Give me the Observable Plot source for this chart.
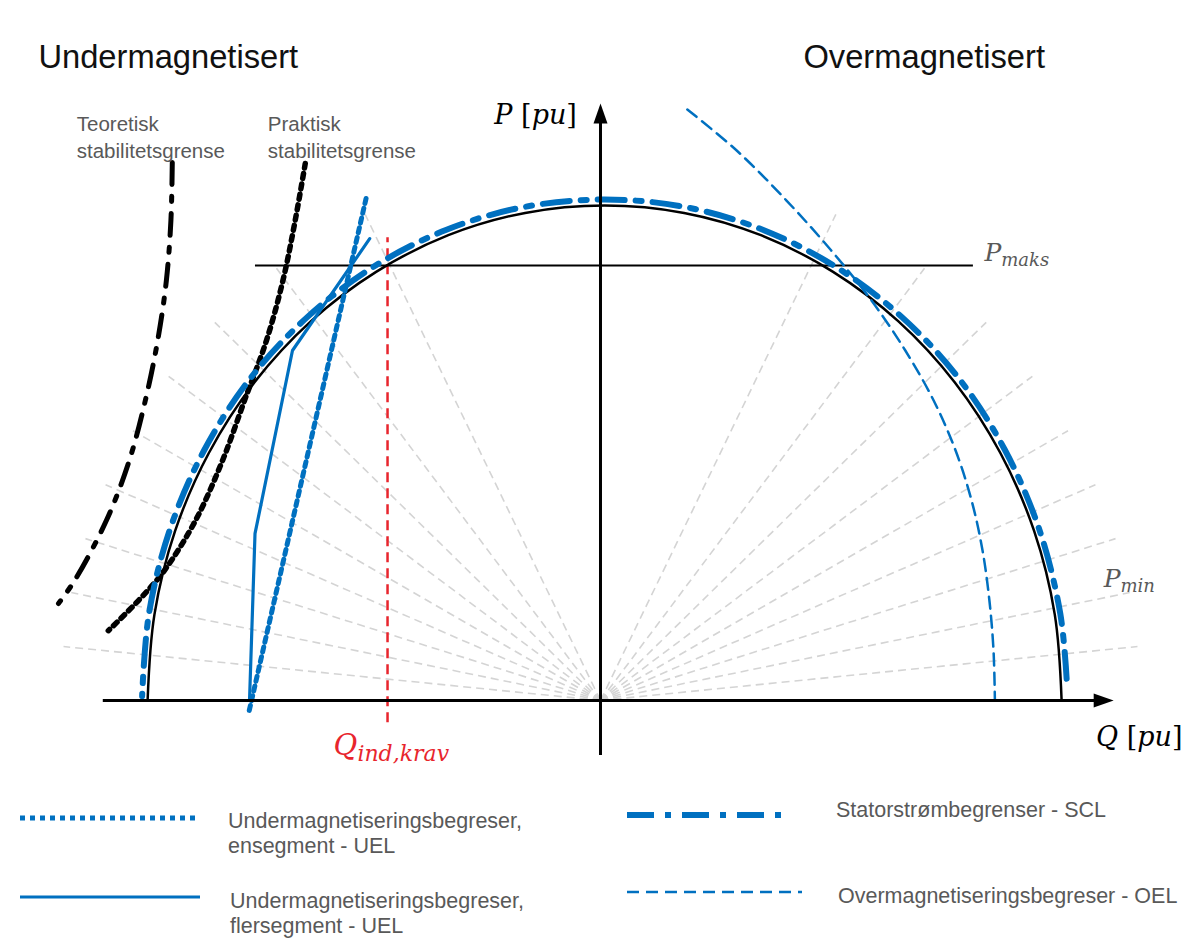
<!DOCTYPE html>
<html><head><meta charset="utf-8">
<script src="https://cdn.jsdelivr.net/npm/d3@7"></script>
<script src="https://cdn.jsdelivr.net/npm/@observablehq/plot@0.6"></script>
<style>
body{margin:0;background:#fff;}
#wrap{position:relative;width:1184px;height:938px;overflow:hidden;font-family:"Liberation Sans",Arial,sans-serif;}
#legend{position:absolute;left:0;top:780px;width:1184px;height:158px;}
.ls{position:absolute;}
.lt{position:absolute;font-size:21.5px;line-height:25px;color:#595959;white-space:pre;}
</style></head><body>
<div id="wrap"><div id="chart"></div><div id="legend"></div></div>
<script>
// ---- data (Q, P in pu) ----
const capabilityCircle = [[1.009,0],[0.994,0.174],[0.949,0.342],[0.875,0.5],[0.775,0.643],[0.652,0.766],[0.509,0.866],[0.351,0.94],[0.183,0.985],[0.009,1],[-0.165,0.985],[-0.333,0.94],[-0.491,0.866],[-0.634,0.766],[-0.757,0.643],[-0.857,0.5],[-0.931,0.342],[-0.976,0.174],[-0.991,0]];
const sclCurve = [[1.020,0.044],[1.006,0.176],[0.960,0.346],[0.885,0.506],[0.784,0.651],[0.659,0.775],[0.515,0.876],[0.355,0.951],[0.185,0.997],[0.009,1.012],[-0.167,0.997],[-0.337,0.951],[-0.497,0.876],[-0.641,0.775],[-0.766,0.651],[-0.867,0.506],[-0.942,0.346],[-0.988,0.176],[-1.003,0.009]];
const oelCurve = [[0.190,1.194],[0.298,1.111],[0.407,1.010],[0.505,0.909],[0.593,0.808],[0.667,0.707],[0.729,0.606],[0.777,0.505],[0.812,0.404],[0.836,0.303],[0.851,0.202],[0.860,0.101],[0.863,0]];
const theoreticalLimit = [[-0.937,1.087],[-0.940,0.970],[-0.950,0.848],[-0.969,0.727],[-0.996,0.606],[-1.031,0.485],[-1.081,0.364],[-1.151,0.242],[-1.186,0.196]];
const practicalLimit = [[-0.646,1.085],[-0.668,0.970],[-0.695,0.848],[-0.731,0.727],[-0.779,0.606],[-0.827,0.485],[-0.886,0.364],[-0.954,0.263],[-1.011,0.202],[-1.077,0.141]];
const uelSingle = [[-0.513,1.014],[-0.770,-0.026]];
const uelMulti = [[-0.505,0.933],[-0.674,0.707],[-0.756,0.337],[-0.768,0]];
const rayEnds = [[1.175,0.109],[1.158,0.218],[1.127,0.327],[1.083,0.436],[1.023,0.545],[0.945,0.655],[0.844,0.764],[0.709,0.873],[0.515,0.982],
                 [-1.175,0.109],[-1.158,0.218],[-1.127,0.327],[-1.083,0.436],[-1.023,0.545],[-0.945,0.655],[-0.844,0.764],[-0.709,0.873],[-0.515,0.982]];
const pMaks = 0.879, pMaksFrom = -0.755, pMaksTo = 0.816;
const qIndKrav = -0.466, qIndFrom = -0.045, qIndTo = 0.935;
const headings = [{q:-1.230, p:1.299, text:"Undermagnetisert"},{q:0.444, p:1.299, text:"Overmagnetisert"}];
const limitLabels = [{q:-1.146, p:1.140, text:"Teoretisk\nstabilitetsgrense"},{q:-0.728, p:1.140, text:"Praktisk\nstabilitetsgrense"}];
const legendItems = [
  {key:"uel1", label:"Undermagnetiseringsbegreser,\nensegment - UEL"},
  {key:"uel2", label:"Undermagnetiseringsbegreser,\nflersegment - UEL"},
  {key:"scl", label:"Statorstrømbegrenser - SCL"},
  {key:"oel", label:"Overmagnetiseringsbegreser - OEL"}
];

const BLUE = "#0070C0";
const styles = {
  uel1:{stroke:BLUE, strokeWidth:5, dash:"5,5"},
  uel2:{stroke:BLUE, strokeWidth:3.2, dash:null},
  scl:{stroke:BLUE, strokeWidth:6, dash:"27,11,6,11"},
  oel:{stroke:BLUE, strokeWidth:2.5, dash:"12,7"}
};

const arrowUp = {draw(ctx){ctx.moveTo(0,-10);ctx.lineTo(7,10);ctx.lineTo(-7,10);ctx.closePath();}};
const arrowRight = {draw(ctx){ctx.moveTo(10,0);ctx.lineTo(-10,-7);ctx.lineTo(-10,7);ctx.closePath();}};

const X = d => d[0], Y = d => d[1];
const serif = "'DejaVu Serif', 'Liberation Serif', serif";

const chart = Plot.plot({
  width:1184, height:780, margin:0,
  x:{domain:[-1.3129,1.2779], axis:null},
  y:{domain:[-0.1616,1.4141], axis:null},
  style:{fontFamily:"'Liberation Sans', Arial, sans-serif", background:"white", overflow:"visible"},
  marks:[
    Plot.link(rayEnds, {x1:0, y1:0, x2:X, y2:Y, stroke:"#d4d4d4", strokeWidth:1.6, strokeDasharray:"8,5"}),
    Plot.ruleX([qIndKrav], {y1:qIndFrom, y2:qIndTo, stroke:"#e8252d", strokeWidth:2.5, strokeDasharray:"10,6"}),
    Plot.ruleY([pMaks], {x1:pMaksFrom, x2:pMaksTo, stroke:"black", strokeWidth:2}),
    Plot.line(capabilityCircle, {x:X, y:Y, curve:"catmull-rom", stroke:"black", strokeWidth:2.5}),
    Plot.line(theoreticalLimit, {x:X, y:Y, curve:"catmull-rom", stroke:"black", strokeWidth:5, strokeDasharray:"22,12,5,12"}),
    Plot.line(practicalLimit, {x:X, y:Y, curve:"catmull-rom", stroke:"black", strokeWidth:5.5, strokeDasharray:"5,5.5"}),
    Plot.line(oelCurve, {x:X, y:Y, curve:"catmull-rom", stroke:BLUE, strokeWidth:styles.oel.strokeWidth, strokeDasharray:styles.oel.dash}),
    Plot.line(sclCurve, {x:X, y:Y, curve:"catmull-rom", stroke:BLUE, strokeWidth:styles.scl.strokeWidth, strokeDasharray:styles.scl.dash}),
    Plot.line(uelSingle, {x:X, y:Y, stroke:BLUE, strokeWidth:styles.uel1.strokeWidth, strokeDasharray:styles.uel1.dash}),
    Plot.line(uelMulti, {x:X, y:Y, stroke:BLUE, strokeWidth:styles.uel2.strokeWidth, strokeLinejoin:"miter"}),
    Plot.ruleY([0], {x1:-1.088, x2:1.095, stroke:"black", strokeWidth:3}),
    Plot.ruleX([0], {y1:-0.111, y2:1.17, stroke:"black", strokeWidth:3}),
    Plot.dot([[0,1.186]], {x:X, y:Y, symbol:arrowUp, fill:"black", stroke:null, r:5}),
    Plot.dot([[1.101,0]], {x:X, y:Y, symbol:arrowRight, fill:"black", stroke:null, r:5}),
    Plot.text(headings, {x:"q", y:"p", text:"text", textAnchor:"start", fontSize:32.7, fill:"#111"}),
    Plot.text(limitLabels, {x:"q", y:"p", text:"text", textAnchor:"start", fontSize:20.5, lineHeight:1.32, fill:"#595959"}),
    Plot.text([{q:-0.142, p:1.182, t:"P [pu]"},{q:1.179, p:-0.075, t:"Q [pu]"}], {x:"q", y:"p", text:"t", fontSize:27, fontFamily:serif, fill:"black"}),
    Plot.text([{q:-0.584, p:-0.092, t:"Qind,krav"}], {x:"q", y:"p", text:"t", textAnchor:"start", fontSize:29, fontFamily:serif, fill:"#e8252d"}),
    Plot.text([{q:0.840, p:0.905, t:"Pmaks"},{q:1.101, p:0.246, t:"Pmin"}], {x:"q", y:"p", text:"t", textAnchor:"start", fontSize:25, fontFamily:serif, fill:"#595959"})
  ]
});
document.getElementById("chart").appendChild(chart);

function rich(str, parts){
  d3.select(chart).selectAll("text").filter(function(){return this.textContent===str;}).each(function(){
    const t = d3.select(this); t.text(null);
    for (const p of parts){
      const s = t.append("tspan").text(p.t).attr("font-style", p.i ? "italic" : "normal");
      if (p.s) s.attr("font-size", p.s);
      if (p.dy) s.attr("dy", p.dy);
    }
  });
}
rich("P [pu]", [{t:"P",i:1},{t:" ["},{t:"pu",i:1},{t:"]"}]);
rich("Q [pu]", [{t:"Q",i:1},{t:" ["},{t:"pu",i:1},{t:"]"}]);
rich("Qind,krav", [{t:"Q",i:1},{t:"ind,krav",i:1,s:"22px",dy:"6px"}]);
rich("Pmaks", [{t:"P",i:1},{t:"maks",i:1,s:"18px",dy:"5px"}]);
rich("Pmin", [{t:"P",i:1},{t:"min",i:1,s:"18px",dy:"5px"}]);

// ---- legend ----
const legendLayout = {
  uel1:{lx:20, ly:38, lw:180, tx:228, ty:29},
  uel2:{lx:20, ly:117, lw:180, tx:230, ty:109},
  scl:{lx:627, ly:35, lw:165, tx:836, ty:18},
  oel:{lx:627, ly:112, lw:175, tx:838, ty:104}
};
const leg = d3.select("#legend");
for (const it of legendItems){
  const L = legendLayout[it.key], st = styles[it.key];
  const svg = leg.append("svg").attr("class","ls").style("left", L.lx+"px").style("top", (L.ly-6)+"px")
    .attr("width", L.lw).attr("height", 12);
  svg.append("line").attr("x1",0).attr("x2",L.lw).attr("y1",6).attr("y2",6)
    .attr("stroke", st.stroke).attr("stroke-width", st.strokeWidth).attr("stroke-dasharray", st.dash);
  leg.append("div").attr("class","lt").style("left", L.tx+"px").style("top", L.ty+"px").text(it.label);
}
</script></body></html>
